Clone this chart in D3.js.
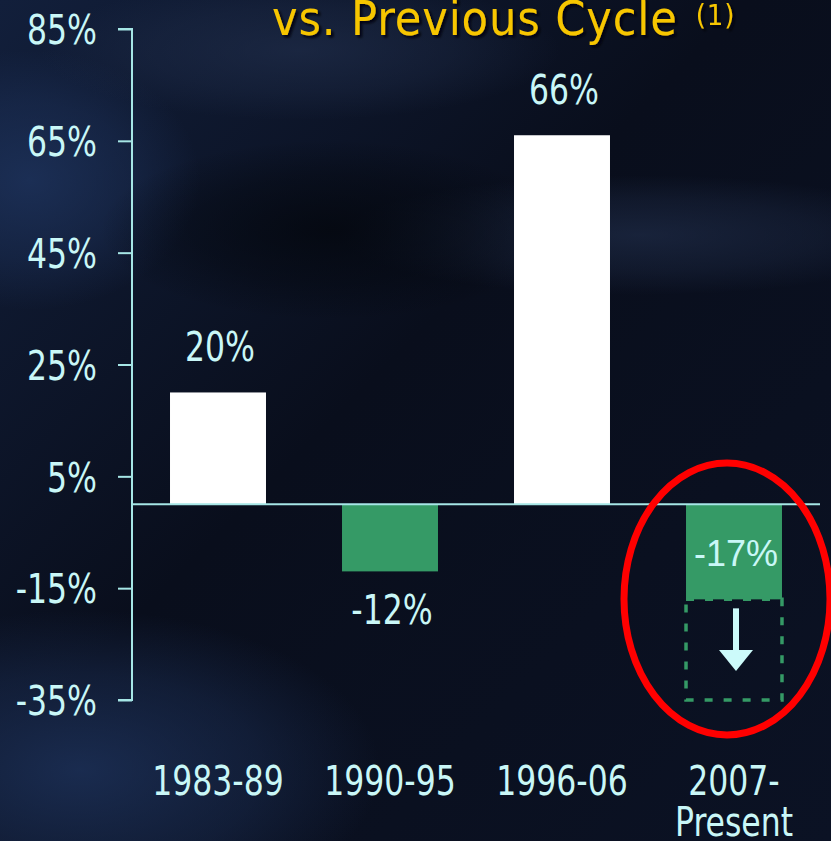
<!DOCTYPE html>
<html>
<head>
<meta charset="utf-8">
<script src="https://cdn.jsdelivr.net/npm/d3@7"></script>
<style>
  html, body { margin: 0; padding: 0; background: #0b1224; }
  svg { display: block; }
</style>
</head>
<body>
<div id="chart"></div>
<script>
// data
var periods = ["1983-89", "1990-95", "1996-06", "2007-\nPresent"];
var changes = [20, -12, 66, -17];
var yTicks = [85, 65, 45, 25, 5, -15, -35];
var projectedFloor = -35;   // dashed box under the last bar
var titleText = "vs. Previous Cycle";
var titleNote = "(1)";

var width = 831, height = 841;
var narrow = "'DejaVu Sans Condensed', 'DejaVu Sans', sans-serif";
var stretch = 1.17;   // the slide font is tall and narrow

var svg = d3.select("#chart").append("svg")
    .attr("width", width)
    .attr("height", height);

// background
var defs = svg.append("defs");
var bg = defs.append("linearGradient").attr("id", "bg")
    .attr("x1", 0).attr("y1", 0).attr("x2", 1).attr("y2", 1);
bg.append("stop").attr("offset", "0%").attr("stop-color", "#121f3b");
bg.append("stop").attr("offset", "45%").attr("stop-color", "#090e1c");
bg.append("stop").attr("offset", "100%").attr("stop-color", "#0b1224");

function soft(id, color, op) {
    var g = defs.append("radialGradient").attr("id", id);
    g.append("stop").attr("offset", "0%").attr("stop-color", color).attr("stop-opacity", op);
    g.append("stop").attr("offset", "60%").attr("stop-color", color).attr("stop-opacity", op * 0.5);
    g.append("stop").attr("offset", "100%").attr("stop-color", color).attr("stop-opacity", 0);
}
soft("light", "#1f3560", 0.75);
soft("grey", "#22304e", 0.6);
soft("dark", "#03060c", 0.75);

var shadow = defs.append("filter").attr("id", "shadow");
shadow.append("feDropShadow")
    .attr("dx", 2.5).attr("dy", 2.5).attr("stdDeviation", 0.8)
    .attr("flood-color", "#02040a").attr("flood-opacity", 0.9);

svg.append("rect").attr("width", width).attr("height", height).attr("fill", "url(#bg)");

var haze = svg.append("g");
haze.append("ellipse").attr("cx", 30).attr("cy", 180).attr("rx", 170).attr("ry", 130).attr("fill", "url(#light)");
haze.append("ellipse").attr("cx", 640).attr("cy", 235).attr("rx", 300).attr("ry", 60).attr("fill", "url(#grey)");
haze.append("ellipse").attr("cx", 300).attr("cy", 50).attr("rx", 260).attr("ry", 70).attr("fill", "url(#grey)");
haze.append("ellipse").attr("cx", 330).attr("cy", 230).attr("rx", 230).attr("ry", 90).attr("fill", "url(#dark)");
haze.append("ellipse").attr("cx", 80).attr("cy", 770).attr("rx", 300).attr("ry", 160).attr("fill", "url(#light)");

// scales
var x = d3.scaleBand()
    .domain(periods)
    .range([132, 820])
    .paddingInner(0.442)
    .paddingOuter(0.221);

var y = d3.scaleLinear().domain([-35, 85]).range([700, 29]);

var textColor = "#c9f7f7";
var green = "#359a66";

function tall(sel, px, py, s) {
    // place text at (px, py) and stretch it vertically
    sel.attr("x", 0).attr("y", 0)
        .attr("transform", "translate(" + px + "," + py + ") scale(1," + (s || stretch) + ")");
}

// y axis
var yAxis = svg.append("g")
    .attr("transform", "translate(132,0)")
    .call(d3.axisLeft(y).tickValues(yTicks).tickSize(14).tickPadding(21)
        .tickFormat(function(d) { return d + "%"; }));
yAxis.select(".domain").attr("stroke", "#a6e6e6").attr("stroke-width", 2)
    .attr("d", "M-14," + y(85) + "H0V" + y(-35) + "H-14");
yAxis.selectAll(".tick line").attr("stroke", "#a6e6e6").attr("stroke-width", 2);
yAxis.selectAll(".tick text")
    .attr("fill", textColor)
    .attr("transform", "scale(1," + stretch + ")")
    .attr("dy", "0.36em")
    .style("font-family", narrow)
    .style("font-size", "35px");

// bars
svg.selectAll(".bar")
    .data(changes)
    .enter()
    .append("rect")
        .attr("class", "bar")
        .attr("x", function(d, i) { return x(periods[i]); })
        .attr("width", x.bandwidth())
        .attr("y", function(d) { return y(Math.max(d, 0)); })
        .attr("height", function(d) { return Math.abs(y(d) - y(0)); })
        .attr("fill", function(d) { return d >= 0 ? "#ffffff" : green; });

// dashed projection box on the last period
var last = periods[periods.length - 1];
var lastVal = changes[changes.length - 1];
svg.append("rect")
    .attr("x", x(last))
    .attr("y", y(lastVal))
    .attr("width", x.bandwidth())
    .attr("height", y(projectedFloor) - y(lastVal))
    .attr("fill", "none")
    .attr("stroke", green)
    .attr("stroke-width", 3.5)
    .attr("stroke-dasharray", "8,11");

// down arrow
var ax = x(last) + x.bandwidth() / 2 + 2;
var aTop = y(lastVal) + 9;
var aHead = y(projectedFloor) - 50;
var aTip = y(projectedFloor) - 29;
svg.append("line")
    .attr("x1", ax).attr("x2", ax)
    .attr("y1", aTop).attr("y2", aHead + 2)
    .attr("stroke", "#ccfafa").attr("stroke-width", 6);
svg.append("path")
    .attr("d", "M" + (ax - 17) + "," + aHead + "L" + (ax + 17) + "," + aHead + "L" + ax + "," + aTip + "Z")
    .attr("fill", "#ccfafa");

// zero line
svg.append("line")
    .attr("x1", 132).attr("x2", 820)
    .attr("y1", y(0)).attr("y2", y(0))
    .attr("stroke", "#a6e6e6").attr("stroke-width", 2);

// value labels
svg.selectAll(".val")
    .data(changes)
    .enter()
    .append("text")
        .attr("class", "val")
        .attr("text-anchor", "middle")
        .attr("fill", textColor)
        .each(function(d, i) {
            var t = d3.select(this);
            var cx = x(periods[i]) + x.bandwidth() / 2 + 2;
            if (i === changes.length - 1) {
                // label inside the last bar is set in a plain sans
                t.attr("x", cx).attr("y", y(0) + 62)
                    .style("font-family", "'Liberation Sans', Arial, sans-serif")
                    .style("font-size", "36px");
            } else {
                tall(t, cx, d >= 0 ? y(d) - 31 : y(d) + 53);
                t.style("font-family", narrow).style("font-size", "35px");
            }
        })
        .text(function(d) { return d + "%"; });

// category labels
svg.selectAll(".cat")
    .data(periods)
    .enter()
    .append("text")
        .attr("class", "cat")
        .attr("text-anchor", "middle")
        .attr("fill", textColor)
        .style("font-family", narrow)
        .style("font-size", "35px")
        .each(function(d) {
            var t = d3.select(this);
            tall(t, x(d) + x.bandwidth() / 2, 795);
            d.split("\n").forEach(function(s, i) {
                t.append("tspan").attr("x", 0).attr("dy", i === 0 ? 0 : 35).text(s);
            });
        });

// title (cut at the top edge)
var title = svg.append("text")
    .attr("text-anchor", "start")
    .attr("fill", "#f7c600")
    .attr("filter", "url(#shadow)")
    .style("font-family", narrow)
    .style("font-size", "48px")
    .style("letter-spacing", "0.9px");
tall(title, 272, 35, 1.0);
title.append("tspan").text(titleText);
title.append("tspan").attr("dx", 18).attr("dy", -10).style("font-size", "29px").text(titleNote);

// red ellipse highlight
svg.append("ellipse")
    .attr("cx", 727).attr("cy", 599)
    .attr("rx", 103).attr("ry", 136)
    .attr("fill", "none")
    .attr("stroke", "#ff0000")
    .attr("stroke-width", 7);
</script>
</body>
</html>
